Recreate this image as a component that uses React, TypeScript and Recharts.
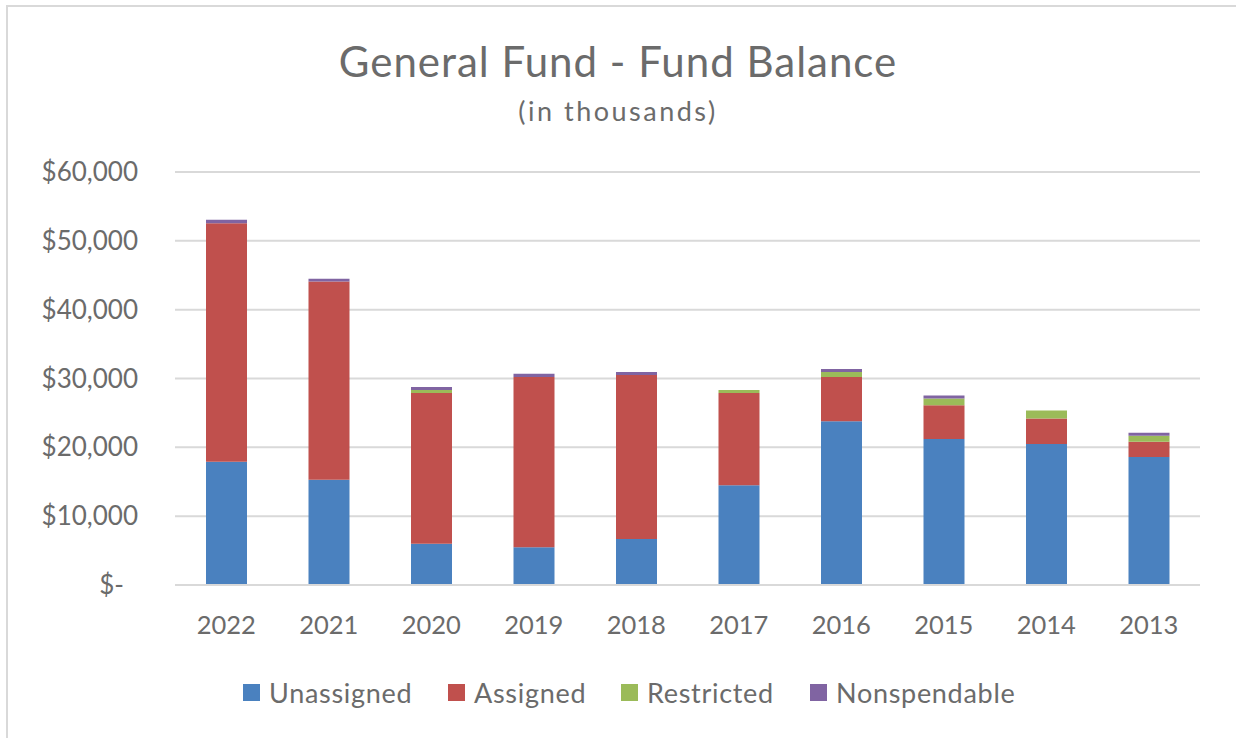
import React from 'react'
import { BarChart, Bar, XAxis, YAxis, CartesianGrid } from 'recharts'

const years = ['2022', '2021', '2020', '2019', '2018', '2017', '2016', '2015', '2014', '2013']
const unassigned = [17900, 15300, 6000, 5500, 6700, 14500, 23800, 21200, 20500, 18600]
const assigned = [34650, 28800, 21900, 24700, 23800, 13400, 6400, 4900, 3700, 2200]
const restricted = [0, 0, 440, 0, 0, 440, 730, 1000, 1150, 870]
const nonspendable = [500, 400, 440, 480, 440, 0, 440, 440, 0, 440]
const yTicks = [0, 10000, 20000, 30000, 40000, 50000, 60000]

const series = [
  { key: 'unassigned', name: 'Unassigned', color: '#4a81bf' },
  { key: 'assigned', name: 'Assigned', color: '#c0504d' },
  { key: 'restricted', name: 'Restricted', color: '#9bbb59' },
  { key: 'nonspendable', name: 'Nonspendable', color: '#8064a2' },
]

const data = years.map((y, i) => ({
  year: y,
  unassigned: unassigned[i],
  assigned: assigned[i],
  restricted: restricted[i],
  nonspendable: nonspendable[i],
}))

const FONT = 'Lato, "Open Sans", sans-serif'
const TEXT = '#6b6b6b'

// "$60,000" right aligned, zero shown as "$-" (ends a bit further left, like excel accounting)
const MoneyTick = (props: any) => {
  const { y, payload } = props
  const v = payload.value as number
  const label = v === 0 ? '$-' : '$' + v.toLocaleString('en-US')
  return (
    <text x={v === 0 ? 124 : 138} y={y} dy="0.35em" fill={TEXT} fontSize={26} fontFamily={FONT} textAnchor="end">
      {label}
    </text>
  )
}

const legendPos = [243, 448, 621, 810]

export default function App() {
  return (
    <div style={{ position: 'absolute', left: 0, top: 0, width: 1236, height: 738, background: '#fff', overflow: 'hidden', fontFamily: FONT }}>
      <div style={{ position: 'absolute', left: 6, top: 5, width: 1300, height: 800, borderLeft: '2px solid #d9d9d9', borderTop: '2px solid #d9d9d9' }} />
      <div style={{ position: 'absolute', left: 0, width: 1236, top: 36, textAlign: 'center', fontSize: 42, letterSpacing: 1, color: TEXT }}>
        General Fund - Fund Balance
      </div>
      <div style={{ position: 'absolute', left: 0, width: 1236, top: 94, textAlign: 'center', fontSize: 27, color: TEXT, letterSpacing: 2.5 }}>
        (in thousands)
      </div>
      <BarChart
        width={1236}
        height={738}
        data={data}
        margin={{ top: 172, right: 36, left: 0, bottom: 93 }}
        barSize={41}
        style={{ position: 'absolute', left: 0, top: 0 }}
      >
        <CartesianGrid vertical={false} stroke="#d9d9d9" strokeWidth={2} />
        <XAxis
          dataKey="year"
          height={60}
          axisLine={{ stroke: '#d9d9d9', strokeWidth: 2 }}
          tickLine={false}
          tickSize={0}
          tickMargin={31}
          tick={{ fill: TEXT, fontSize: 25.5, fontFamily: FONT }}
        />
        <YAxis
          width={175}
          domain={[0, 60000]}
          ticks={yTicks}
          axisLine={false}
          tickLine={false}
          tick={<MoneyTick />}
        />
        {series.map(s => (
          <Bar key={s.key} dataKey={s.key} name={s.name} stackId="a" fill={s.color} isAnimationActive={false} />
        ))}
      </BarChart>
      {series.map((s, i) => (
        <div key={s.key} style={{ position: 'absolute', left: legendPos[i], top: 676, display: 'flex', alignItems: 'center', color: TEXT, fontSize: 27, letterSpacing: 0.7 }}>
          <span style={{ display: 'inline-block', width: 17, height: 17, background: s.color, marginRight: 9 }} />
          <span>{s.name}</span>
        </div>
      ))}
    </div>
  )
}
